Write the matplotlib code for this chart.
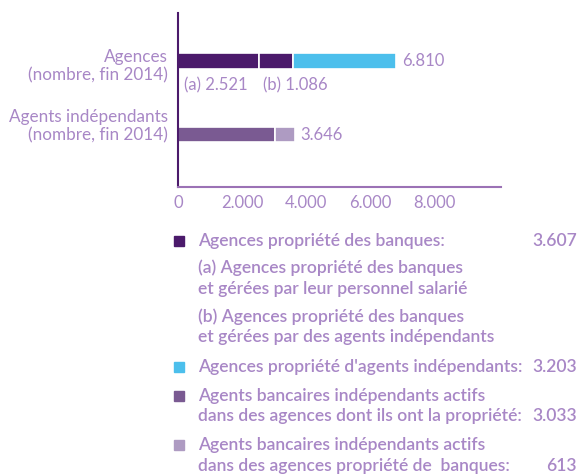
import matplotlib
matplotlib.use("Agg")
import matplotlib.pyplot as plt
from matplotlib.patches import Rectangle

# donnees
categories = ["Agences\n(nombre, fin 2014)", "Agents indépendants\n(nombre, fin 2014)"]
agences = [2521, 1086, 3203]          # (a), (b), agences d'agents independants
agents = [3033, 613]
totaux = ["6.810", "3.646"]
sous_labels = ["(a) 2.521", "(b) 1.086"]
xticks = [0, 2000, 4000, 6000, 8000]
xticklabels = ["0", "2.000", "4.000", "6.000", "8.000"]

leg_textes = [
    ["Agences propriété des banques:"],
    ["(a) Agences propriété des banques", "et gérées par leur personnel salarié"],
    ["(b) Agences propriété des banques", "et gérées par des agents indépendants"],
    ["Agences propriété d'agents indépendants:"],
    ["Agents bancaires indépendants actifs", "dans des agences dont ils ont la propriété:"],
    ["Agents bancaires indépendants actifs", "dans des agences propriété de  banques:"],
]
leg_valeurs = ["3.607", "", "", "3.203", "3.033", "613"]
leg_couleurs = ["#4b1a6b", None, None, "#4cbfec", "#7a5a92", "#ae9bc2"]

c_txt = "#a887c6"
c_fonce = "#4b1a6b"
c_cyan = "#4cbfec"
c_moyen = "#7a5a92"
c_clair = "#ae9bc2"

plt.rcParams["font.family"] = ["Lato", "DejaVu Sans"]

W, H = 579, 475
fig = plt.figure(figsize=(W / 100, H / 100), dpi=100)
ax = fig.add_axes([178 / W, 1 - 187 / H, (501 - 178) / W, (187 - 13) / H])

h = 0.21
y1, y2 = 0, 1
# barre agences
gauche = 0
cols = [c_fonce, c_fonce, c_cyan]
for v, c in zip(agences, cols):
    ax.barh(y1, v, left=gauche, height=h, color=c, edgecolor="white", linewidth=1.2)
    gauche += v
ax.text(gauche + 180, y1, totaux[0], va="center", ha="left", color=c_txt, fontsize=12)

# barre agents
gauche = 0
for v, c in zip(agents, [c_moyen, c_clair]):
    ax.barh(y2, v, left=gauche, height=h, color=c, edgecolor="white", linewidth=1.2)
    gauche += v
ax.text(gauche + 180, y2, totaux[1], va="center", ha="left", color=c_txt, fontsize=12)

# sous-etiquettes (a) et (b)
ax.text(200, y1 + 0.33, sous_labels[0], va="center", ha="left", color=c_txt, fontsize=12)
ax.text(agences[0] + 150, y1 + 0.33, sous_labels[1], va="center", ha="left", color=c_txt, fontsize=12)

ax.set_xlim(0, 10094)
ax.set_ylim(1.714, -0.653)

ax.set_xticks(xticks)
ax.set_xticklabels(xticklabels, color=c_txt, fontsize=12)
ax.set_yticks([])
ax.tick_params(axis="x", length=0, pad=6)

for s in ["top", "right"]:
    ax.spines[s].set_visible(False)
ax.spines["left"].set_color(c_fonce)
ax.spines["left"].set_linewidth(1.5)
ax.spines["bottom"].set_color("#9b72b5")
ax.spines["bottom"].set_linewidth(1.5)

# etiquettes des categories
for yy, lab in zip([66, 126], categories):
    fig.text(168 / W, 1 - yy / H, lab, ha="right", va="center", color=c_txt,
             fontsize=12.3, linespacing=1.15)

# legende
lignes_y = [[241], [268, 289], [317, 337], [367], [396, 416], [445, 466]]
for ly, textes, val, c in zip(lignes_y, leg_textes, leg_valeurs, leg_couleurs):
    for yy, t in zip(ly, textes):
        fig.text(198 / W, 1 - yy / H, t, ha="left", va="center", color=c_txt,
                 fontsize=12.6, fontweight=600)
    if c is not None:
        fig.patches.append(Rectangle((174 / W, 1 - (ly[0] + 5) / H), 10 / W, 10 / H,
                                     transform=fig.transFigure, color=c))
        fig.text(577 / W, 1 - ly[-1] / H, val, ha="right", va="center",
                 color=c_txt, fontsize=12.6, fontweight=600)

fig.savefig("out.png", dpi=100)
